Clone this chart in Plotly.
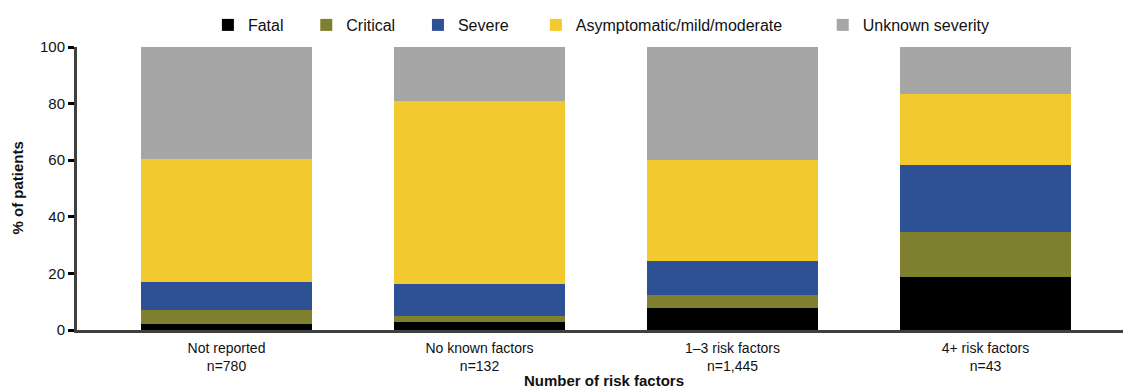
import plotly.graph_objects as go

categories = ["Not reported<br>n=780", "No known factors<br>n=132",
              "1–3 risk factors<br>n=1,445", "4+ risk factors<br>n=43"]
fatal = [2.1, 2.8, 7.8, 18.7]
critical = [5.0, 2.2, 4.6, 16.0]
severe = [9.9, 11.3, 12.0, 23.7]
asymptomatic = [43.5, 64.7, 35.7, 25.1]
unknown = [39.5, 19.0, 39.9, 16.5]

NB = "\u00a0"
series = [
    ("Fatal", fatal, "#000000", 4),
    ("Critical", critical, "#7f7f30", 4),
    ("Severe", severe, "#2d5194", 5),
    ("Asymptomatic/mild/moderate", asymptomatic, "#f2ca30", 8),
    ("Unknown severity", unknown, "#a6a6a6", 0),
]

font = "Liberation Sans, Arial, sans-serif"
fig = go.Figure()
for name, vals, col, pad in series:
    fig.add_trace(go.Bar(x=categories, y=vals, name=name + NB * pad,
                         marker=dict(color=col, line=dict(width=0))))

fig.update_layout(
    barmode="stack",
    bargap=0.324,
    width=1131, height=390,
    margin=dict(l=69, r=8, t=39, b=68, autoexpand=False),
    plot_bgcolor="white", paper_bgcolor="white",
    font=dict(family=font, size=14, color="#111111"),
    showlegend=True,
    legend=dict(orientation="h", x=0.1242, xanchor="left", y=1.0, yanchor="top",
                yref="container", font=dict(size=16), traceorder="normal"),
    xaxis=dict(range=[-0.591, 3.575], showline=True, linecolor="#404040", linewidth=3,
               ticks="", tickfont=dict(size=14), ticklabelstandoff=3,
               showgrid=False, zeroline=False),
    yaxis=dict(range=[0, 100], tickvals=[0, 20, 40, 60, 80, 100], showline=True,
               linecolor="#404040", linewidth=3, ticks="outside", ticklen=6,
               tickwidth=3, tickcolor="#000000", tickfont=dict(size=15),
               showgrid=False, zeroline=False),
    annotations=[
        dict(text="<b>Number of risk factors</b>", xref="paper", yref="paper",
             x=0.5, y=-0.18, xanchor="center", yanchor="middle", showarrow=False,
             font=dict(size=15)),
        dict(text="<b>% of patients</b>", xref="paper", yref="paper",
             x=-0.0569, y=0.5, xanchor="center", yanchor="middle", textangle=-90,
             showarrow=False, font=dict(size=15)),
    ],
)
fig.write_html("out.html")
